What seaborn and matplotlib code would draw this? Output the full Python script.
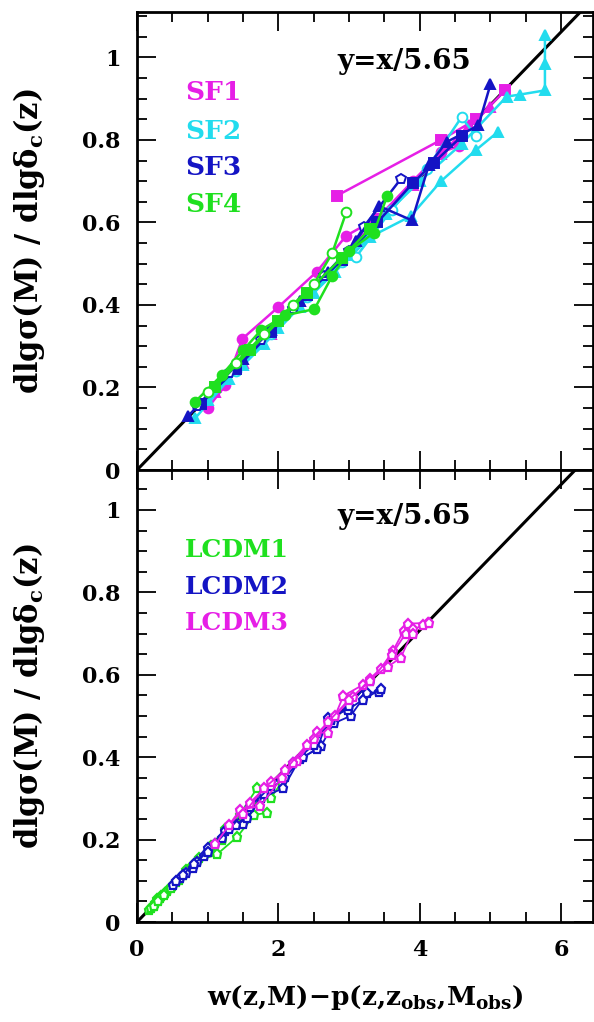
import matplotlib
matplotlib.use("Agg")
import numpy as np
import matplotlib.pyplot as plt
import seaborn as sns
from matplotlib.ticker import MultipleLocator, FuncFormatter

# ---------------- data ----------------
slope_denominator = 5.65

# SF runs (upper panel)
sf1_sq_x = [2.83, 4.30, 4.80, 5.21]
sf1_sq_y = [0.665, 0.80, 0.85, 0.92]
sf1_ci_x = [1.00, 1.25, 1.49, 2.00, 2.54, 2.96, 3.40, 3.90, 4.30, 4.55]
sf1_ci_y = [0.15, 0.205, 0.318, 0.395, 0.48, 0.568, 0.61, 0.70, 0.77, 0.785]
sf1_tr_x = [1.10, 1.50, 1.90, 2.30, 2.70, 3.10, 3.50, 3.90, 4.30, 4.70, 5.00]
sf1_tr_y = [0.19, 0.26, 0.33, 0.41, 0.475, 0.555, 0.62, 0.69, 0.765, 0.835, 0.88]

sf2_a_x = [0.82, 1.30, 1.80, 2.30, 2.80, 3.30, 3.87, 4.30, 4.79, 5.11]
sf2_a_y = [0.125, 0.22, 0.305, 0.395, 0.48, 0.565, 0.615, 0.70, 0.775, 0.82]
sf2_b_x = [1.00, 1.50, 2.00, 2.50, 3.00, 3.52, 4.00, 4.59, 5.23, 5.42, 5.77, 5.77, 5.77]
sf2_b_y = [0.17, 0.255, 0.345, 0.43, 0.52, 0.62, 0.70, 0.79, 0.905, 0.91, 0.92, 0.985, 1.055]
sf2_c_x = [0.90, 1.40, 1.90, 2.40, 2.90, 3.10, 3.60, 4.10, 4.59, 4.79]
sf2_c_y = [0.16, 0.24, 0.33, 0.42, 0.505, 0.517, 0.63, 0.73, 0.855, 0.81]

sf3_a_x = [0.72, 1.10, 1.50, 1.90, 2.30, 2.70, 3.10, 3.42, 3.89, 4.13, 4.38, 4.83, 5.00]
sf3_a_y = [0.13, 0.20, 0.27, 0.34, 0.41, 0.48, 0.555, 0.64, 0.605, 0.74, 0.795, 0.835, 0.935]
sf3_b_x = [0.85, 1.30, 1.75, 2.20, 2.65, 3.00, 3.21, 3.73]
sf3_b_y = [0.155, 0.235, 0.315, 0.39, 0.47, 0.53, 0.59, 0.705]
sf3_c_x = [0.90, 1.40, 1.90, 2.40, 2.90, 3.40, 3.90, 4.20, 4.60]
sf3_c_y = [0.16, 0.245, 0.335, 0.425, 0.51, 0.60, 0.695, 0.745, 0.81]

sf4_a_x = [0.82, 1.20, 1.50, 1.76, 2.10, 2.51, 2.76, 3.00, 3.35, 3.54]
sf4_a_y = [0.165, 0.23, 0.29, 0.34, 0.375, 0.39, 0.47, 0.53, 0.575, 0.665]
sf4_b_x = [1.00, 1.40, 1.80, 2.20, 2.50, 2.76, 2.96]
sf4_b_y = [0.19, 0.26, 0.33, 0.40, 0.45, 0.525, 0.625]
sf4_c_x = [1.10, 1.60, 2.00, 2.40, 2.90, 3.30]
sf4_c_y = [0.20, 0.29, 0.36, 0.43, 0.515, 0.585]

# LCDM runs (lower panel)
lcdm1_a_x = [0.17, 0.22, 0.28, 0.34, 0.42, 0.55, 0.70, 0.88, 1.05, 1.25, 1.45, 1.70]
lcdm1_a_y = [0.03, 0.04, 0.055, 0.062, 0.075, 0.098, 0.125, 0.155, 0.185, 0.225, 0.26, 0.325]
lcdm1_b_x = [0.20, 0.26, 0.33, 0.40, 0.50, 0.65, 0.85, 1.13, 1.42, 1.66, 1.84]
lcdm1_b_y = [0.035, 0.046, 0.058, 0.07, 0.088, 0.115, 0.148, 0.164, 0.207, 0.26, 0.265]
lcdm1_c_x = [0.24, 0.30, 0.38, 0.48, 0.60, 0.78, 1.00, 1.20, 1.50, 1.75, 1.89, 2.05]
lcdm1_c_y = [0.04, 0.052, 0.066, 0.083, 0.102, 0.135, 0.17, 0.20, 0.255, 0.30, 0.30, 0.34]

lcdm2_a_x = [0.51, 0.61, 0.79, 0.95, 1.10, 1.25, 1.50, 1.75, 2.07, 2.30, 2.60, 2.78, 3.02, 3.25, 3.42]
lcdm2_a_y = [0.09, 0.108, 0.13, 0.16, 0.19, 0.221, 0.238, 0.30, 0.325, 0.395, 0.426, 0.482, 0.50, 0.555, 0.559]
lcdm2_b_x = [0.55, 0.70, 0.85, 1.00, 1.20, 1.40, 1.56, 1.80, 2.10, 2.35, 2.55, 2.70, 2.98, 3.20, 3.45]
lcdm2_b_y = [0.10, 0.12, 0.145, 0.18, 0.205, 0.235, 0.252, 0.31, 0.352, 0.40, 0.42, 0.495, 0.515, 0.54, 0.565]
lcdm2_c_x = [0.65, 0.80, 1.00, 1.30, 1.60, 1.90, 2.20, 2.50, 2.74, 3.00, 3.30]
lcdm2_c_y = [0.115, 0.14, 0.17, 0.225, 0.28, 0.33, 0.385, 0.43, 0.49, 0.525, 0.585]

lcdm3_a_x = [1.11, 1.46, 1.74, 2.05, 2.27, 2.55, 2.70, 2.92, 3.20, 3.45, 3.62, 3.77, 3.83, 4.11]
lcdm3_a_y = [0.189, 0.273, 0.281, 0.35, 0.39, 0.46, 0.459, 0.549, 0.576, 0.615, 0.658, 0.706, 0.724, 0.726]
lcdm3_b_x = [1.30, 1.60, 1.89, 2.20, 2.50, 2.80, 3.05, 3.30, 3.55, 3.73, 3.91, 4.04, 4.13]
lcdm3_b_y = [0.235, 0.29, 0.339, 0.385, 0.445, 0.50, 0.545, 0.59, 0.62, 0.641, 0.71, 0.72, 0.725]
lcdm3_c_x = [1.50, 1.80, 2.10, 2.40, 2.70, 3.00, 3.30, 3.60, 3.80, 3.91]
lcdm3_c_y = [0.262, 0.325, 0.37, 0.43, 0.485, 0.54, 0.585, 0.648, 0.70, 0.698]

sf_names = ["SF1", "SF2", "SF3", "SF4"]
lcdm_names = ["LCDM1", "LCDM2", "LCDM3"]
y_ticks = [0, 0.2, 0.4, 0.6, 0.8, 1.0]
x_ticks = [0, 2, 4, 6]

# ---------------- style ----------------
MAGENTA = "#e61fe6"
CYAN = "#22dcee"
BLUE = "#1414c4"
GREEN = "#1fe01f"

sns.set_theme(style="ticks")
plt.rcParams["font.family"] = ["DejaVu Serif", "DejaVu Sans"]
plt.rcParams["font.weight"] = "bold"
plt.rcParams["mathtext.fontset"] = "custom"
plt.rcParams["mathtext.rm"] = "DejaVu Serif:bold"
plt.rcParams["mathtext.it"] = "DejaVu Serif:bold"
plt.rcParams["mathtext.bf"] = "DejaVu Serif:bold"

W, H = 594, 1022
fig = plt.figure(figsize=(W / 100, H / 100), dpi=100)
fig.patch.set_facecolor("white")
left, right = 137, 593
ax_top = fig.add_axes([left / W, 1 - 470 / H, (right - left) / W, 458 / H])
ax_bot = fig.add_axes([left / W, 1 - 922 / H, (right - left) / W, 452 / H])


def draw_curve(ax, xs, ys, color, marker, filled=True, lw=1.8, ms=7.0, mew=1.4):
    sns.lineplot(x=xs, y=ys, ax=ax, color=color, sort=False, estimator=None,
                 marker=marker, linewidth=lw, markersize=ms,
                 markeredgecolor=color, markeredgewidth=mew,
                 markerfacecolor=color if filled else "white",
                 legend=False, zorder=3)


def style_axes(ax, ymax, show_xlabels):
    ax.set_xlim(0, 6.45)
    ax.set_ylim(0, ymax)
    ax.set_xticks(x_ticks)
    ax.xaxis.set_minor_locator(MultipleLocator(0.5))
    ax.set_yticks(y_ticks)
    ax.yaxis.set_minor_locator(MultipleLocator(0.05))
    ax.yaxis.set_major_formatter(FuncFormatter(lambda v, p: f"{v:g}"))
    ax.tick_params(which="both", direction="in", top=True, right=True,
                   bottom=True, left=True, color="black", width=1.3)
    ax.tick_params(which="major", length=14, labelsize=16, pad=12,
                   labelcolor="black")
    ax.tick_params(which="minor", length=7)
    ax.tick_params(axis="x", labelbottom=show_xlabels)
    for s in ax.spines.values():
        s.set_color("black")
        s.set_linewidth(2.0)
    ax.set_facecolor("white")
    ylab = r"dlgσ(M) / dlgδ$_{\rm c}$(z)"
    ax.set_ylabel(ylab, fontsize=22, fontweight="bold", color="black")
    ax.yaxis.set_label_coords(-0.198, 0.5)


# reference relation y = x / 5.65
line_x = np.array([0.0, 7.0])
for ax in (ax_top, ax_bot):
    ax.plot(line_x, line_x / slope_denominator, color="black", lw=2.2, zorder=2)

# upper panel: SF runs
draw_curve(ax_top, sf1_ci_x, sf1_ci_y, MAGENTA, "o")
draw_curve(ax_top, sf1_tr_x, sf1_tr_y, MAGENTA, "^")
draw_curve(ax_top, sf1_sq_x, sf1_sq_y, MAGENTA, "s")
draw_curve(ax_top, sf2_a_x, sf2_a_y, CYAN, "^")
draw_curve(ax_top, sf2_b_x, sf2_b_y, CYAN, "^")
draw_curve(ax_top, sf2_c_x, sf2_c_y, CYAN, "o", filled=False)
draw_curve(ax_top, sf3_c_x, sf3_c_y, BLUE, "s")
draw_curve(ax_top, sf3_b_x, sf3_b_y, BLUE, "p", filled=False)
draw_curve(ax_top, sf3_a_x, sf3_a_y, BLUE, "^")
draw_curve(ax_top, sf4_c_x, sf4_c_y, GREEN, "s")
draw_curve(ax_top, sf4_a_x, sf4_a_y, GREEN, "o")
draw_curve(ax_top, sf4_b_x, sf4_b_y, GREEN, "o", filled=False)

# lower panel: LCDM runs
for xs, ys in ((lcdm1_a_x, lcdm1_a_y), (lcdm1_b_x, lcdm1_b_y), (lcdm1_c_x, lcdm1_c_y)):
    draw_curve(ax_bot, xs, ys, GREEN, "p", filled=False, lw=1.3, ms=6.5, mew=1.6)
for xs, ys in ((lcdm2_a_x, lcdm2_a_y), (lcdm2_b_x, lcdm2_b_y), (lcdm2_c_x, lcdm2_c_y)):
    draw_curve(ax_bot, xs, ys, BLUE, "p", filled=False, lw=1.3, ms=6.5, mew=1.6)
for xs, ys in ((lcdm3_a_x, lcdm3_a_y), (lcdm3_b_x, lcdm3_b_y), (lcdm3_c_x, lcdm3_c_y)):
    draw_curve(ax_bot, xs, ys, MAGENTA, "p", filled=False, lw=1.3, ms=6.5, mew=1.6)

style_axes(ax_top, 1.11, False)
style_axes(ax_bot, 1.097, True)

ax_bot.set_xlabel(r"w(z,M)$-$p(z,z$_{\rm obs}$,M$_{\rm obs}$)",
                  fontsize=19, fontweight="bold", color="black")
ax_bot.xaxis.set_label_coords(0.5, -0.135)

# relation labels
for ax, ty in ((ax_top, 0.99), (ax_bot, 0.983)):
    ax.text(2.83, ty, "y=x/5.65", fontsize=20, fontweight="bold",
            color="black", ha="left", va="center")

# run names
for name, col, ty in zip(sf_names, [MAGENTA, CYAN, BLUE, GREEN],
                         [0.915, 0.82, 0.733, 0.643]):
    ax_top.text(0.68, ty, name, color=col, fontsize=19, fontweight="bold",
                ha="left", va="center")
for name, col, ty in zip(lcdm_names, [GREEN, BLUE, MAGENTA],
                         [0.903, 0.813, 0.726]):
    ax_bot.text(0.68, ty, name, color=col, fontsize=18, fontweight="bold",
                ha="left", va="center")

fig.savefig("out.png", dpi=100, facecolor="white")
